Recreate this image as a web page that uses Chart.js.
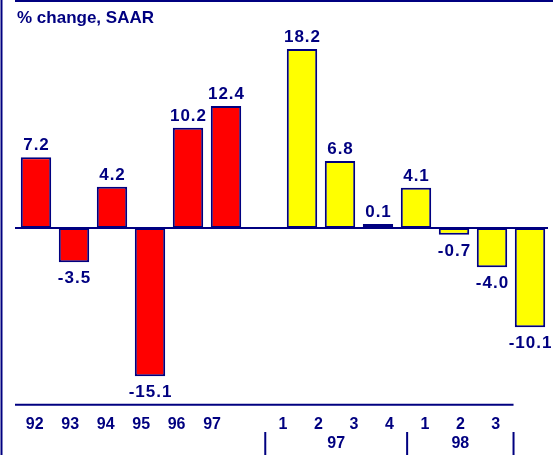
<!DOCTYPE html>
<html>
<head>
<meta charset="utf-8">
<script src="https://cdn.jsdelivr.net/npm/chart.js@4/dist/chart.umd.min.js"></script>
<style>
  html, body { margin: 0; padding: 0; background: #fff; }
  #wrap { width: 559px; height: 455px; position: relative; }
</style>
</head>
<body>
<div id="wrap"><canvas id="chart"></canvas></div>
<script>
// annual figures, then quarterly figures (97 Q1..Q4, 98 Q1..Q3)
const annualLabels = ['92', '93', '94', '95', '96', '97'];
const annualValues = [7.2, -3.5, 4.2, -15.1, 10.2, 12.4];
const quarterLabels = ['1', '2', '3', '4', '1', '2', '3'];
const quarterValues = [18.2, 6.8, 0.1, 4.1, -0.7, -4.0, -10.1];
const groupLabels = ['97', '98'];
const groupSizes = [4, 3];

const navy = '#000080';
const font = 'Liberation Sans, Arial, sans-serif';

// one empty slot between the annual and the quarterly bars
const labels = [...annualLabels, '', ...quarterLabels];
const values = [...annualValues, null, ...quarterValues];
const colors = [...annualValues.map(() => '#ff0000'), 'rgba(0,0,0,0)', ...quarterValues.map(() => '#ffff00')];
// tick-label axis is a little narrower than the bar axis in the original
const tickLabels = [...labels, ''];

const decor = {
    id: 'decor',
    beforeDraw(chart) {
        const ctx = chart.ctx;
        ctx.save();
        ctx.strokeStyle = navy;
        ctx.lineWidth = 2;
        ctx.beginPath();
        ctx.moveTo(15, 1); ctx.lineTo(553, 1);
        ctx.moveTo(1.5, 0); ctx.lineTo(1.5, chart.height);
        ctx.stroke();
        ctx.restore();
    },
    beforeDatasetsDraw(chart) {
        const ctx = chart.ctx;
        const y0 = chart.scales.y.getPixelForValue(0);
        ctx.save();
        ctx.strokeStyle = navy;
        ctx.lineWidth = 2;
        ctx.beginPath();
        ctx.moveTo(15, y0); ctx.lineTo(chart.chartArea.right - 1, y0);
        ctx.stroke();
        ctx.restore();
    },
    afterDatasetsDraw(chart) {
        const ctx = chart.ctx;
        const meta = chart.getDatasetMeta(0);
        ctx.save();
        ctx.fillStyle = navy;
        ctx.font = 'bold 17px ' + font;
        ctx.letterSpacing = '1px';
        ctx.textAlign = 'center';
        ctx.textBaseline = 'alphabetic';
        meta.data.forEach((bar, i) => {
            const v = values[i];
            if (v == null) return;
            const y = v >= 0 ? bar.y - 7 : bar.y + 21;
            ctx.fillText(v.toFixed(1), bar.x + 0.5, y);
        });
        ctx.letterSpacing = '0px';

        // bottom axis line, year separators and year labels
        const x2 = chart.scales.x2;
        const step = x2.getPixelForValue(1) - x2.getPixelForValue(0);
        const bottom = chart.chartArea.bottom;
        const last = labels.length - 1;
        ctx.strokeStyle = navy;
        ctx.lineWidth = 2;
        ctx.beginPath();
        ctx.moveTo(15, bottom);
        ctx.lineTo(x2.getPixelForValue(last) + step / 2, bottom);
        ctx.stroke();

        let start = annualLabels.length + 1;
        ctx.font = 'bold 16px ' + font;
        ctx.textBaseline = 'middle';
        groupLabels.forEach((g, k) => {
            const end = start + groupSizes[k] - 1;
            const left = x2.getPixelForValue(start) - step / 2;
            const right = x2.getPixelForValue(end) + step / 2;
            ctx.beginPath();
            ctx.moveTo(left, 432); ctx.lineTo(left, chart.height);
            if (k === groupLabels.length - 1) {
                ctx.moveTo(right, 432); ctx.lineTo(right, chart.height);
            }
            ctx.stroke();
            ctx.fillText(g, (left + right) / 2, 444);
            start = end + 1;
        });
        ctx.restore();
    }
};

const ctx = document.getElementById('chart').getContext('2d');

const chart = new Chart(ctx, {
    type: 'bar',
    data: {
        labels: labels,
        datasets: [{
            data: values,
            backgroundColor: colors,
            borderColor: navy,
            borderWidth: 2,
            borderSkipped: false,
            minBarLength: 4,
            barPercentage: 0.8,
            categoryPercentage: 1
        }]
    },
    options: {
        responsive: true,
        maintainAspectRatio: false,
        animation: false,
        layout: { padding: { left: 17, right: 10, top: 4, bottom: 11 } },
        plugins: {
            legend: { display: false },
            tooltip: { enabled: false },
            title: {
                display: true,
                text: '% change, SAAR',
                align: 'start',
                color: navy,
                font: { family: font, size: 17, weight: 'bold' },
                padding: { top: 4, bottom: 3 }
            }
        },
        scales: {
            x: {
                display: false
            },
            x2: {
                type: 'category',
                labels: tickLabels,
                position: 'bottom',
                offset: true,
                grid: { display: false, drawTicks: false },
                border: { display: false },
                ticks: {
                    color: navy,
                    padding: 10,
                    autoSkip: false,
                    maxRotation: 0,
                    font: { family: font, size: 16, weight: 'bold' }
                }
            },
            y: {
                display: false,
                min: -18,
                max: 20
            }
        }
    },
    plugins: [decor]
});
</script>
</body>
</html>
